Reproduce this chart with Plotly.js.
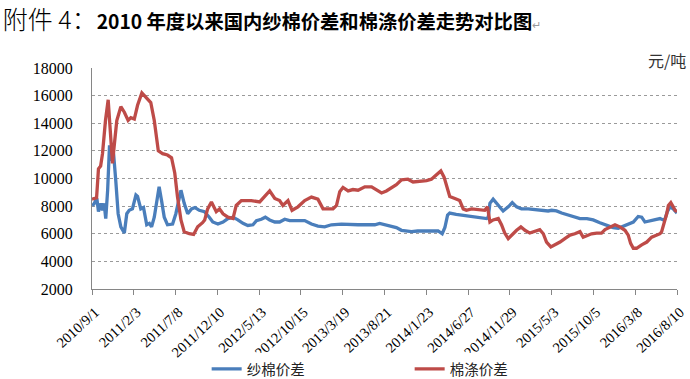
<!DOCTYPE html>
<html>
<head>
<meta charset="utf-8">
<script src="https://cdn.plot.ly/plotly-3.0.1.min.js"></script>
<style>html,body{margin:0;padding:0;background:#fff;}#chart{width:690px;height:379px;}</style>
</head>
<body>
<div id="chart"></div>
<script>
// 纱棉价差 (blue)
const yarnDates = ['2010-09-01','2010-09-08','2010-09-19','2010-09-25','2010-10-04','2010-10-10','2010-10-16','2010-10-22','2010-10-29','2010-11-05','2010-11-12','2010-11-20','2010-11-28','2010-12-07','2010-12-17','2010-12-30','2011-01-08','2011-01-17','2011-01-29','2011-02-11','2011-02-17','2011-03-01','2011-03-11','2011-03-23','2011-04-02','2011-04-10','2011-04-20','2011-05-02','2011-05-08','2011-05-17','2011-05-27','2011-06-08','2011-06-27','2011-07-09','2011-07-18','2011-07-28','2011-08-09','2011-08-22','2011-09-05','2011-09-18','2011-10-04','2011-10-23','2011-11-10','2011-11-23','2011-12-12','2011-12-31','2012-01-18','2012-02-06','2012-02-24','2012-03-14','2012-04-01','2012-04-20','2012-05-03','2012-05-21','2012-06-05','2012-06-21','2012-07-10','2012-07-28','2012-08-16','2012-09-03','2012-10-29','2012-11-23','2012-12-17','2013-01-11','2013-02-05','2013-03-14','2013-05-15','2013-07-16','2013-08-03','2013-08-22','2013-09-16','2013-10-04','2013-10-23','2013-11-11','2013-11-29','2013-12-22','2014-01-29','2014-03-08','2014-03-23','2014-04-02','2014-04-12','2014-04-20','2014-05-14','2014-06-03','2014-06-27','2014-07-22','2014-08-16','2014-09-04','2014-09-10','2014-09-16','2014-09-28','2014-10-17','2014-11-04','2014-11-23','2014-12-08','2014-12-24','2015-01-11','2015-02-05','2015-03-02','2015-03-27','2015-04-20','2015-05-03','2015-05-21','2015-06-09','2015-06-27','2015-07-22','2015-08-16','2015-09-11','2015-10-04','2015-10-29','2015-11-23','2015-12-17','2016-01-05','2016-01-24','2016-02-11','2016-03-01','2016-03-19','2016-04-01','2016-04-13','2016-05-02','2016-05-20','2016-06-08','2016-06-20','2016-06-27','2016-07-05','2016-07-15','2016-07-27','2016-08-03','2016-08-10'];
const yarnSpread = [8050,8150,8550,7600,8200,7700,8200,7100,9150,12400,11300,11800,9900,7450,6500,6050,7450,7700,7800,8800,8700,7800,7900,6650,6750,6500,7200,8800,9400,8400,7200,6650,6700,7450,8400,9150,8200,7450,7800,7900,7700,7600,7200,6850,6700,6850,7100,7200,7000,6750,6600,6650,6950,7050,7200,7000,6850,6850,7050,6950,6950,6700,6550,6500,6650,6700,6650,6650,6750,6650,6550,6450,6250,6200,6150,6200,6200,6200,6000,6450,7350,7500,7400,7350,7250,7200,7150,7100,7200,8200,8500,8050,7650,7950,8250,7950,7800,7800,7750,7700,7650,7700,7650,7500,7400,7200,7100,7100,7000,6800,6650,6450,6400,6550,6700,6850,7250,7200,6850,6950,7000,7100,7000,7100,7600,7950,7800,7600,7500];

// 棉涤价差 (red)
const polyDates = ['2010-09-01','2010-09-18','2010-09-25','2010-10-03','2010-10-10','2010-10-21','2010-10-31','2010-11-08','2010-11-16','2010-11-22','2010-12-02','2010-12-17','2010-12-30','2011-01-13','2011-01-23','2011-02-05','2011-02-17','2011-03-05','2011-03-20','2011-04-07','2011-04-20','2011-05-05','2011-05-21','2011-06-08','2011-06-23','2011-07-05','2011-07-15','2011-07-28','2011-08-09','2011-08-28','2011-09-13','2011-09-28','2011-10-16','2011-10-24','2011-11-04','2011-11-18','2011-12-06','2011-12-18','2011-12-31','2012-01-18','2012-02-06','2012-02-18','2012-03-08','2012-04-14','2012-05-15','2012-06-02','2012-06-21','2012-07-10','2012-07-28','2012-08-09','2012-08-28','2012-09-12','2012-10-04','2012-10-29','2012-11-23','2012-12-17','2013-01-05','2013-02-11','2013-02-24','2013-03-08','2013-03-20','2013-04-08','2013-04-26','2013-05-15','2013-06-09','2013-07-04','2013-07-22','2013-08-10','2013-08-28','2013-09-16','2013-10-04','2013-10-23','2013-11-16','2013-12-05','2013-12-30','2014-01-24','2014-02-11','2014-03-02','2014-03-18','2014-03-30','2014-04-12','2014-04-20','2014-05-09','2014-05-27','2014-06-09','2014-06-21','2014-07-10','2014-08-03','2014-08-28','2014-09-07','2014-09-16','2014-09-28','2014-10-17','2014-10-29','2014-11-10','2014-11-23','2014-12-05','2014-12-24','2015-01-09','2015-01-24','2015-02-11','2015-03-02','2015-03-20','2015-04-02','2015-04-14','2015-04-30','2015-05-15','2015-06-03','2015-06-21','2015-07-10','2015-07-28','2015-08-16','2015-08-28','2015-09-11','2015-09-28','2015-10-17','2015-11-04','2015-11-17','2015-12-05','2015-12-24','2016-01-11','2016-01-30','2016-02-11','2016-02-20','2016-03-01','2016-03-13','2016-04-01','2016-04-20','2016-05-08','2016-05-27','2016-06-08','2016-06-14','2016-06-23','2016-07-03','2016-07-09','2016-07-18','2016-07-27','2016-08-03','2016-08-10'];
const polySpread = [8500,8600,10700,10900,11800,14200,15700,13500,11100,12300,14200,15200,14800,14200,14400,14300,15300,16200,15900,15500,14200,12000,11800,11700,11500,10400,8700,7000,6150,6000,5950,6500,6800,7000,7800,8300,7600,7800,7450,7200,7100,8050,8400,8400,8300,8700,9100,8550,8400,8050,8400,7700,7950,8400,8650,8500,7800,7800,8050,9050,9350,9100,9200,9150,9400,9400,9150,8950,9100,9300,9550,9900,9950,9750,9800,9850,9950,10250,10550,10100,9150,8700,8550,8400,7800,7700,7800,7750,7700,7950,6850,7000,7100,6650,6050,5650,5900,6250,6500,6250,6050,6150,6300,6000,5400,5050,5200,5400,5650,5900,6000,6150,5750,5850,6000,6050,6050,6300,6500,6650,6500,6250,5900,5300,4950,4950,5200,5400,5750,5900,6000,6150,6750,7450,8050,8250,7950,7700,7600];

const tickDates = ['2010-09-01','2011-02-03','2011-07-08','2011-12-10','2012-05-13','2012-10-15','2013-03-19','2013-08-21','2014-01-23','2014-06-27','2014-11-29','2015-05-03','2015-10-05','2016-03-08','2016-08-10'];
const tickLabels = ['2010/9/1','2011/2/3','2011/7/8','2011/12/10','2012/5/13','2012/10/15','2013/3/19','2013/8/21','2014/1/23','2014/6/27','2014/11/29','2015/5/3','2015/10/5','2016/3/8','2016/8/10'];
const seriesNames = ['纱棉价差','棉涤价差'];
const yTicks = [2000,4000,6000,8000,10000,12000,14000,16000,18000];
const yTickLabels = ['2000','4000','6000','8000','10000','12000','14000','16000','18000'];

const traces = [
  {x: yarnDates, y: yarnSpread, name: seriesNames[0], type: 'scatter', mode: 'lines',
   line: {color: '#4A7EBB', width: 3.3}},
  {x: polyDates, y: polySpread, name: seriesNames[1], type: 'scatter', mode: 'lines',
   line: {color: '#BE4B48', width: 3.3}}
];

const layout = {
  width: 690, height: 379,
  margin: {l: 92, r: 13, t: 68, b: 90, autoexpand: false},
  paper_bgcolor: '#fff', plot_bgcolor: '#fff',
  title: {
    text: '<span style="font-family:\'Noto Sans CJK SC\';font-size:25px;font-weight:300">附件 4：</span><b>2010 年度以来国内纱棉价差和棉涤价差走势对比图</b><span style="font-size:11px;color:#999">↵</span>',
    font: {family: 'Noto Sans CJK SC', size: 19.3, color: '#000'},
    x: 0.004, xref: 'container', xanchor: 'left',
    y: 0.94, yref: 'container', yanchor: 'middle'
  },
  xaxis: {
    type: 'date', range: ['2010-09-01', '2016-08-10'], automargin: false,
    tickmode: 'array', tickvals: tickDates, ticktext: tickLabels,
    tickangle: -43, ticks: 'outside', ticklen: 5, tickcolor: '#868686', tickwidth: 1,
    ticklabelstandoff: 3, ticklabelshift: 3,
    showline: true, linecolor: '#868686', linewidth: 1,
    showgrid: false, zeroline: false,
    tickfont: {family: 'Liberation Serif', size: 14.5, color: '#000'}
  },
  yaxis: {
    range: [2000, 18000], tickmode: 'array', tickvals: yTicks, ticktext: yTickLabels,
    automargin: false,
    ticks: '', showline: true, linecolor: '#868686', linewidth: 1,
    showgrid: true, gridcolor: '#9a9a9a', griddash: 'dot', gridwidth: 1,
    zeroline: false, ticklabelstandoff: 15,
    tickfont: {family: 'Liberation Serif', size: 16, color: '#000'}
  },
  legend: {
    orientation: 'h', x: 0.196, xanchor: 'left', y: -0.362, yanchor: 'middle',
    font: {family: 'Noto Sans CJK SC', size: 14.5, color: '#222'},
    entrywidth: 158, entrywidthmode: 'pixels', itemwidth: 30
  },
  annotations: [{
    text: '元/吨', xref: 'paper', yref: 'paper', x: 1.019, y: 1.036,
    xanchor: 'right', yanchor: 'middle', showarrow: false,
    font: {family: 'Noto Sans CJK SC', size: 16, color: '#333'}
  }],
  showlegend: true
};

Plotly.newPlot('chart', traces, layout, {displayModeBar: false, staticPlot: true});
</script>
</body>
</html>
